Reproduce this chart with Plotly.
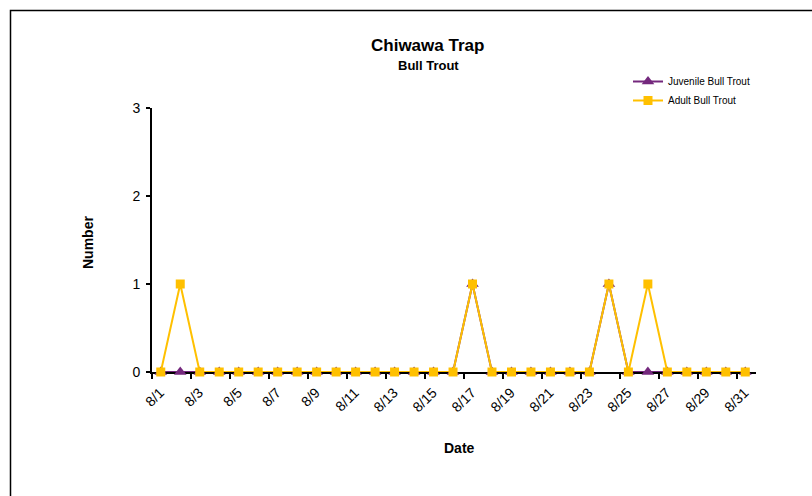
import plotly.graph_objects as go

dates = [f"8/{d}" for d in range(1, 32)]
juvenile = [0, 0, 0, 0, 0, 0, 0, 0, 0, 0, 0, 0, 0, 0, 0, 0, 1, 0, 0, 0, 0, 0, 0, 1, 0, 0, 0, 0, 0, 0, 0]
adult = [0, 1, 0, 0, 0, 0, 0, 0, 0, 0, 0, 0, 0, 0, 0, 0, 1, 0, 0, 0, 0, 0, 0, 1, 0, 1, 0, 0, 0, 0, 0]
y_ticks = [0, 1, 2, 3]

W, H = 812, 496
L, R, T, B = 152, 56, 108, 124
pw, ph = W - L - R, H - T - B

def px_x(p):
    return (p - L) / pw

def px_y(p):
    return (H - B - p) / ph

idx = list(range(len(dates)))
tick_idx = idx[::2]
tick_vals = [i - 0.45 for i in tick_idx]
tick_text = [dates[i] for i in tick_idx]

fig = go.Figure()
fig.add_trace(go.Scatter(
    x=idx, y=juvenile, name="Juvenile Bull Trout", mode="lines+markers",
    line=dict(color="#74287D", width=2),
    marker=dict(symbol="triangle-up", size=11, color="#74287D"),
    cliponaxis=False,
))
fig.add_trace(go.Scatter(
    x=idx, y=adult, name="Adult Bull Trout", mode="lines+markers",
    line=dict(color="#FFC000", width=2),
    marker=dict(symbol="square", size=9, color="#FFC000"),
    cliponaxis=False,
))

fig.update_layout(
    width=W, height=H,
    margin=dict(l=L, r=R, t=T, b=B, pad=0),
    paper_bgcolor="white", plot_bgcolor="white",
    font=dict(family="Liberation Sans, Arial, sans-serif", color="black", size=12),
    showlegend=True,
    legend=dict(
        x=px_x(628), y=px_y(67), xanchor="left", yanchor="top",
        font=dict(size=10, family="Liberation Sans, Arial, sans-serif"),
        bgcolor="rgba(0,0,0,0)", tracegroupgap=4, itemwidth=30,
    ),
    xaxis=dict(
        range=[-0.45, 30.55], tickmode="array", tickvals=tick_vals, ticktext=tick_text,
        tickangle=-45, ticks="outside", ticklen=5, tickwidth=1.5, tickcolor="black",
        showline=True, linecolor="black", linewidth=2, showgrid=False, zeroline=False,
        tickfont=dict(size=14), ticklabelshift=8, ticklabelstandoff=0,
        layer="below traces",
    ),
    yaxis=dict(
        range=[0, 3], tickmode="array", tickvals=y_ticks,
        ticks="outside", ticklen=4, tickwidth=1.5, tickcolor="black",
        showline=True, linecolor="black", linewidth=2, showgrid=False, zeroline=False,
        tickfont=dict(size=14), ticklabelstandoff=3,
        layer="below traces",
    ),
    annotations=[
        dict(text="<b>Chiwawa Trap</b>", x=px_x(427), y=px_y(45), xref="paper", yref="paper",
             showarrow=False, font=dict(size=17), xanchor="center", yanchor="middle"),
        dict(text="<b>Bull Trout</b>", x=px_x(428), y=px_y(65), xref="paper", yref="paper",
             showarrow=False, font=dict(size=13), xanchor="center", yanchor="middle"),
        dict(text="<b>Number</b>", x=px_x(88), y=px_y(243), xref="paper", yref="paper",
             showarrow=False, font=dict(size=14), textangle=-90, xanchor="center", yanchor="middle"),
        dict(text="<b>Date</b>", x=px_x(459), y=px_y(448), xref="paper", yref="paper",
             showarrow=False, font=dict(size=14), xanchor="center", yanchor="middle"),
    ],
    shapes=[
        dict(type="rect", xref="paper", yref="paper",
             x0=px_x(10.5), x1=px_x(830), y0=px_y(10.5), y1=px_y(520),
             line=dict(color="black", width=1.5), fillcolor="rgba(0,0,0,0)", layer="below"),
    ],
)

fig.write_html("out.html", config={"displayModeBar": False},
               post_script="document.body.style.margin='0';document.body.style.padding='0';")
